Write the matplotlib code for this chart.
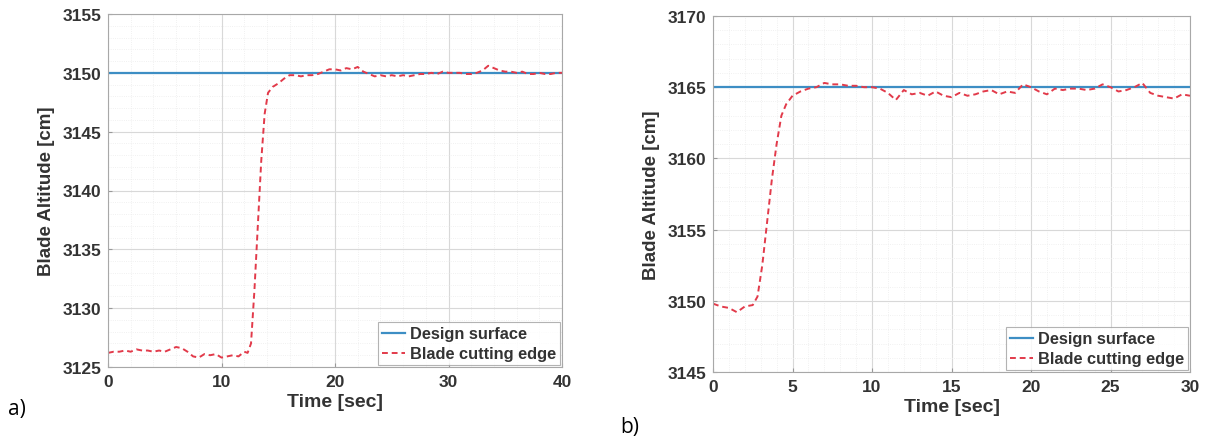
import numpy as np
import matplotlib.pyplot as plt
from matplotlib.ticker import AutoMinorLocator

# panel a) values
time_a = [0, 0.5, 1, 1.5, 2, 2.5, 3, 3.5, 4, 4.5, 5, 5.5, 6, 6.5, 7, 7.5, 8, 8.5,
          9, 9.5, 10, 10.5, 11, 11.5, 12, 12.3, 12.6, 12.9, 13.2, 13.5, 13.8, 14.1,
          14.5, 15, 15.5, 16, 16.5, 17, 17.5, 18, 18.5, 19, 19.5, 20, 20.5, 21, 21.5,
          22, 22.5, 23, 23.5, 24, 24.5, 25, 25.5, 26, 26.5, 27, 27.5, 28, 28.5, 29,
          29.5, 30, 30.5, 31, 31.5, 32, 32.5, 33, 33.5, 34, 34.5, 35, 35.5, 36, 36.5,
          37, 37.5, 38, 38.5, 39, 39.5, 40]
blade_a = [3126.2, 3126.3, 3126.3, 3126.4, 3126.3, 3126.5, 3126.4, 3126.4, 3126.3,
           3126.4, 3126.3, 3126.5, 3126.7, 3126.6, 3126.3, 3125.9, 3125.8, 3126.1,
           3126.0, 3126.1, 3125.8, 3125.9, 3126.0, 3125.9, 3126.3, 3126.2, 3127.0,
           3131.5, 3137.0, 3142.5, 3146.5, 3148.3, 3148.8, 3149.1, 3149.5, 3149.8,
           3149.8, 3149.7, 3149.8, 3149.8, 3149.9, 3150.1, 3150.3, 3150.3, 3150.2,
           3150.4, 3150.3, 3150.5, 3150.1, 3149.9, 3149.7, 3149.8, 3149.7, 3149.8,
           3149.7, 3149.8, 3149.7, 3149.8, 3149.9, 3149.9, 3150.0, 3149.9, 3150.1,
           3150.0, 3150.0, 3150.0, 3149.9, 3149.9, 3150.0, 3150.2, 3150.6, 3150.4,
           3150.2, 3150.1, 3150.1, 3150.0, 3150.1, 3149.9, 3149.9, 3150.0, 3149.9,
           3149.9, 3150.0, 3150.0]
design_a = 3150

# panel b)
time_b = [0, 0.5, 1, 1.5, 2, 2.5, 2.8, 3.1, 3.4, 3.7, 4.0, 4.3, 4.6, 5, 5.5, 6, 6.5,
          7, 7.5, 8, 8.5, 9, 9.5, 10, 10.5, 11, 11.5, 12, 12.5, 13, 13.5, 14, 14.5,
          15, 15.5, 16, 16.5, 17, 17.5, 18, 18.5, 19, 19.5, 20, 20.5, 21, 21.5, 22,
          22.5, 23, 23.5, 24, 24.5, 25, 25.5, 26, 26.5, 27, 27.5, 28, 28.5, 29, 29.5, 30]
blade_b = [3149.8, 3149.6, 3149.5, 3149.2, 3149.6, 3149.7, 3150.3, 3152.5, 3155.5,
           3158.5, 3161.0, 3163.0, 3163.8, 3164.4, 3164.7, 3164.9, 3165.0, 3165.3,
           3165.2, 3165.2, 3165.1, 3165.1, 3165.0, 3165.0, 3164.9, 3164.6, 3164.1,
           3164.8, 3164.5, 3164.6, 3164.4, 3164.7, 3164.4, 3164.3, 3164.6, 3164.4,
           3164.5, 3164.7, 3164.8, 3164.5, 3164.7, 3164.6, 3165.2, 3165.0, 3164.7,
           3164.5, 3164.9, 3164.8, 3164.9, 3164.9, 3164.8, 3164.9, 3165.2, 3165.0,
           3164.7, 3164.8, 3165.0, 3165.3, 3164.6, 3164.4, 3164.3, 3164.2, 3164.5, 3164.4]
design_b = 3165

plt.rcParams['font.family'] = ['Liberation Sans', 'DejaVu Sans']
plt.rcParams['font.weight'] = 'bold'

BLUE = '#3d8ec4'
RED = '#e23a4a'
TXT = '#333333'

fig = plt.figure(figsize=(12.05, 4.39), dpi=100)
ax_a = fig.add_axes([108/1205, 1 - 368/439, (562-108)/1205, (368-15)/439])
ax_b = fig.add_axes([713/1205, 1 - 373/439, (1190-713)/1205, (373-17)/439])


def style(ax, xlim, ylim, xstep, ystep):
    ax.set_xlim(*xlim)
    ax.set_ylim(*ylim)
    ax.set_xticks(np.arange(xlim[0], xlim[1] + 0.01, xstep))
    ax.set_yticks(np.arange(ylim[0], ylim[1] + 0.01, ystep))
    ax.xaxis.set_minor_locator(AutoMinorLocator(5))
    ax.yaxis.set_minor_locator(AutoMinorLocator(5))
    ax.grid(which='major', color='#d8d8d8', lw=0.8)
    ax.grid(which='minor', color='#ececec', lw=0.6, ls=':')
    ax.tick_params(which='both', direction='in', length=0, labelsize=12.5,
                   labelcolor=TXT, pad=5)
    ax.tick_params(which='major', length=3, color='#999999')
    for s in ax.spines.values():
        s.set_color('#a8a8a8')
    ax.set_xlabel('Time [sec]', fontsize=14, fontweight='bold', color=TXT, labelpad=3)
    ax.set_ylabel('Blade Altitude [cm]', fontsize=13.5, fontweight='bold', color=TXT, labelpad=5)
    ax.set_axisbelow(True)


for ax, t, y, d, xlim, ylim, xs in [
        (ax_a, time_a, blade_a, design_a, (0, 40), (3125, 3155), 10),
        (ax_b, time_b, blade_b, design_b, (0, 30), (3145, 3170), 5)]:
    ax.axhline(d, color=BLUE, lw=1.6, label='Design surface')
    ax.plot(t, y, color=RED, lw=1.4, ls=(0, (3, 2)), label='Blade cutting edge')
    style(ax, xlim, ylim, xs, 5)
    leg = ax.legend(loc='lower right', fontsize=11.8, frameon=True, fancybox=False,
                    handlelength=1.4, handletextpad=0.3, borderpad=0.25,
                    labelspacing=0.3, borderaxespad=0.1)
    leg.get_frame().set_edgecolor('#a0a0a0')
    leg.get_frame().set_linewidth(0.8)
    for txt in leg.get_texts():
        txt.set_color(TXT)

fig.text(8/1205, 1 - 410/439, 'a)', fontsize=15, fontweight='normal',
         family='Open Sans', va='center')
fig.text(620/1205, 1 - 417/439, 'b)', fontsize=15, fontweight='normal',
         family='Open Sans', va='top')

fig.savefig('out.png', dpi=100)
